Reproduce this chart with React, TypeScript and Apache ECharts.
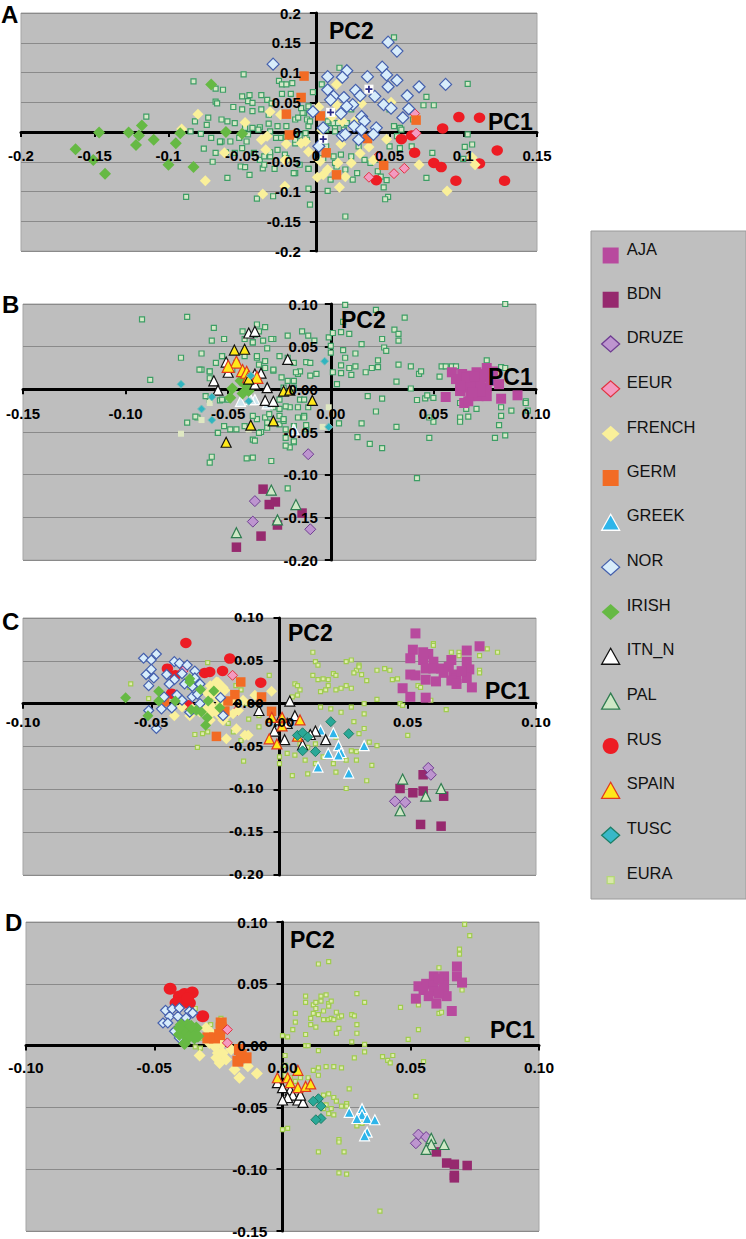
import React, { useEffect, useRef } from "react";
import * as echarts from "echarts";

// ---------- Panel A ----------
const eurA = [[-.083,.085],[-.049,.097],[-.115,.026],[-.068,.073],[-.063,.071],[-.068,.051],[-.067,.048],[-.056,.042],[-.05,.06],[-.045,.062],[-.046,.052],[-.043,.049],[-.05,.038],[-.043,.035],[-.037,.062],[-.033,.054],[-.037,.038],[-.03,.048],[-.032,.029],[-.073,.024],[-.082,.018],[-.074,.012],[-.078,-.003],[-.085,.001],[-.064,.021],[-.06,.018],[-.055,.015],[-.048,.007],[-.043,.007],[-.038,.008],[-.032,.014],[-.026,.01],[-.031,.001],[-.024,-.01],[-.025,.086],[-.023,.08],[-.02,.08],[-.016,.082],[-.023,.064],[-.017,.064],[-.002,.067],[.004,.08],[.016,.108],[.053,.159],[.103,.081],[.075,.059],[.073,.045],[.08,.045],[.103,-.004],[.101,-.025],[.106,-.021],[.1,-.045],[.079,-.035],[.075,-.077],[.048,-.081],[.049,-.109],[.047,-.113],[.046,-.093],[.02,-.142],[.008,-.099],[-.005,-.095],[-.004,-.122],[-.04,-.112],[-.029,-.108],[-.088,-.109],[-.06,-.077],[-.045,-.072],[-.051,-.058],[-.048,-.059],[-.036,-.061],[-.014,-.069],[-.005,-.062],[-.011,-.055],[-.07,-.05],[-.068,-.035],[-.065,-.017],[-.064,-.016],[-.076,-.028],[-.061,-.034],[-.055,-.035],[-.05,-.027],[-.042,-.035],[-.038,-.047],[-.031,-.041],[-.026,-.03],[-.021,-.038],[-.014,-.019],[-.007,-.002],[-.005,.01],[-.008,.032],[-.014,.021],[-.02,.01],[.01,.015],[.013,.007],[.007,-.024],[.012,-.041],[.017,-.038],[.02,-.063],[.025,-.08],[.014,-.058],[.024,-.041],[.029,-.024],[.033,-.047],[.04,-.047],[.042,-.066],[.045,-.052],[.057,.007],[.055,-.007],[.05,-.024],[.057,-.027],[.065,-.024],[.05,.038],[.024,.038],[.021,.015],[-.012,.024],[-.009,.032],[-.006,.021],[-.004,.018],[-.01,.04],[-.005,.043],[.008,.018],[.012,.015],[.007,.004],[.013,.001],[.019,.004],[.015,.015],[-.027,-.01],[-.02,-.008],[-.014,-.013],[-.011,-.006],[-.006,-.013],[-.039,.004],[-.046,-.004],[-.047,-.016],[-.052,-.01],[-.058,-.016],[-.065,-.016],[-.071,-.01],[-.035,-.041],[-.035,-.055],[-.028,-.062],[-.015,-.069],[-.031,-.034],[-.02,-.044],[-.005,-.062],[.005,-.044],[.013,-.052],[.01,-.08],[.028,-.069],[.037,-.052],[.044,-.075],[.058,.004],[.066,.021],[.053,.01]];
const norA = [[.049,.151],[.055,.136],[-.029,.114],[.045,.109],[.048,.096],[.055,.087],[.049,.076],[.07,.076],[.088,.08],[.021,.103],[.018,.092],[.008,.093],[.035,.093],[.027,.07],[.03,.061],[.04,.06],[.008,.071],[.012,.06],[.019,.058],[.01,.054],[.025,.046],[.021,.043],[.046,.046],[.051,.04],[.062,.061],[.063,.039],[.059,.024],[-.002,.034],[.017,.031],[.031,.026],[.033,.018],[.026,.01],[.031,.004],[.041,.007],[.005,.007],[.018,-.006],[.02,-.004],[.039,-.004],[.029,-.013],[.002,-.024]];
const freA = [[-.08,.03],[-.091,.005],[-.048,.016],[-.031,.034],[-.024,.029],[-.033,-.007],[-.037,-.013],[-.034,-.03],[-.062,-.035],[-.02,-.02],[-.01,-.019],[-.007,-.016],[-.005,-.033],[-.021,-.047],[-.021,-.091],[-.036,-.104],[-.075,-.082],[.014,.08],[.014,.046],[.002,.042],[.011,.026],[.018,.018],[.027,.02],[.031,.048],[.051,.05],[.004,.003],[.017,-.02],[.036,-.025],[.03,-.036],[.024,-.052],[.015,-.052],[.003,-.049],[.008,-.063],[.005,-.072],[.001,-.076],[.02,-.075],[.016,-.093],[.039,-.047],[.048,-.012],[.07,-.055],[.089,-.099],[.106,-.043],[.108,-.055]];
const iriA = [[-.071,.08],[-.118,.011],[-.147,-.001],[-.127,-.001],[-.12,-.006],[-.122,-.022],[-.11,-.013],[-.092,-.002],[-.095,-.019],[-.163,-.029],[-.151,-.047],[-.143,-.07],[-.1,-.055],[-.083,-.059],[-.061,0],[-.05,-.003]];
const gerA = [[-.008,.094],[-.01,.058],[-.02,.03],[.003,.027],[-.018,-.005],[.007,-.035],[.014,-.072],[.035,-.011],[.046,-.056],[.068,.02]];
const eeuA = [[.067,.031],[.068,-.002],[.06,-.061],[.053,-.07],[.036,-.076],[.042,-.041]];
const rusA = [[.097,.025],[.111,.024],[.086,.006],[.065,-.006],[.058,-.012],[.067,-.035],[.123,-.031],[.111,-.053],[.08,-.052],[.085,-.059],[.095,-.082],[.128,-.082],[.041,-.081]];
const plusA = [[.036,.072],[.01,.033],[.005,-.012]];

// ---------- Panel B ----------
const eurB = [[-.092,.082],[-.07,.085],[-.088,.011],[-.073,.037],[-.057,.072],[-.063,.042],[-.063,.023],[-.059,.021],[-.058,.057],[-.052,.059],[-.036,.076],[-.032,.073],[-.035,.068],[-.043,.068],[-.042,.059],[-.038,.055],[-.033,.057],[-.028,.059],[-.031,.048],[-.042,.039],[-.036,.037],[-.032,.033],[-.028,.022],[-.053,.039],[-.059,.013],[-.021,.063],[-.014,.068],[-.011,.063],[-.008,.057],[-.001,.061],[0,.051],[.001,.066],[.005,.067],[.009,.065],[.007,.099],[.006,.079],[.022,.093],[.036,.084],[.031,.07],[.033,.065],[.033,.057],[.025,.059],[.015,.053],[.026,.049],[.027,.045],[.006,.046],[.007,.037],[.012,.042],[0,.043],[.023,.034],[.023,.026],[.02,.025],[.017,.02],[.012,.027],[.005,.028],[.009,.025],[.001,.02],[.005,.019],[.01,.017],[.033,.029],[.039,.027],[.043,.018],[.044,.021],[.032,.009],[.039,.001],[.003,.006],[.018,-.008],[.025,-.011],[.022,-.026],[.015,-.04],[.004,-.04],[.013,-.056],[.019,-.064],[.025,-.069],[.032,-.044],[.042,-.104],[.048,-.057],[.05,-.038],[.048,-.033],[.042,-.0125],[.046,-.0105],[.047,-.007],[.05,-.01],[.054,.027],[.053,.015],[.056,.027],[.059,.027],[.061,.027],[.063,-.016],[.063,-.033],[.063,-.038],[.067,-.032],[.071,-.023],[.066,-.023],[.076,.034],[.083,.026],[.085,.025],[.085,.1],[.083,-.021],[.088,-.025],[.083,-.031],[.082,-.042],[.08,-.057],[.085,-.054],[.095,-.014],[.095,-.016],[.096,-.025],[-.058,-.079],[-.059,-.086],[-.041,-.081],[-.038,-.08],[-.029,-.084],[-.021,-.116],[-.038,-.059],[-.055,-.051],[-.052,-.043],[-.049,-.047],[-.046,-.047],[-.042,-.043],[-.034,-.05],[-.036,-.035],[-.038,-.031],[-.031,-.045],[-.025,-.041],[-.025,-.031],[-.023,-.037],[-.016,-.033],[-.013,-.031],[-.011,-.021],[-.016,-.021],[-.02,-.021],[-.025,-.023],[-.025,-.012],[-.02,-.068],[-.018,-.062],[-.022,-.057],[-.012,-.047],[-.012,-.042],[-.022,-.047],[-.018,-.043],[-.05,-.012],[-.054,-.013],[-.059,-.012],[-.065,-.033],[-.07,-.039],[-.024,.014],[-.021,.01],[-.016,.018],[-.015,.021],[-.018,.002],[-.01,.016],[-.007,.018],[-.021,.037],[-.018,.031],[-.012,.032],[-.01,.031],[-.025,.039],[-.053,.039],[-.056,.031],[-.059,.021],[-.064,.023],[-.037,.064],[-.038,.055],[-.029,.059],[-.036,.039],[-.035,.029],[-.032,.025],[-.028,.023],[-.046,.031],[-.048,.023],[-.017,.02],[-.018,.01],[-.023,.002],[-.015,-.012],[-.013,-.012],[-.022,-.02],[-.028,-.021],[-.032,-.033],[-.03,-.029],[-.023,-.035],[-.013,-.033],[-.055,-.051],[-.035,-.051],[-.037,-.06],[-.031,-.039],[-.022,-.066],[-.018,-.061],[-.053,-.012],[-.061,-.008],[-.066,-.032]];
const ajaB = [[.059,.02],[.064,.018],[.076,.025],[.071,.02],[.068,.016],[.065,.01],[.07,.01],[.074,.014],[.063,-.002],[.067,.002],[.071,.002],[.076,.002],[.068,-.008],[.072,-.008],[.076,-.008],[.065,-.016],[.056,-.009],[.082,.006],[.083,-.011],[.091,-.007],[.078,.01],[.061,.012],[.068,.006],[.073,.008],[.066,.014],[.07,.015],[.073,-.003],[.063,.004],[.067,-.014],[.069,-.004],[.075,.018],[.079,.021]];
const bdnB = [[-.033,-.117],[-.027,-.132],[-.03,-.135],[-.014,-.145],[-.026,-.159],[-.034,-.172],[-.046,-.185]];
const druB = [[-.011,-.076],[-.037,-.131],[-.038,-.155],[-.01,-.164]];
const palB = [[-.029,-.118],[-.017,-.135],[-.026,-.153],[-.046,-.168]];
const itnB = [[-.04,.066],[-.037,.068],[-.021,.035],[-.051,.032],[-.05,.02],[-.057,.01],[-.055,-.001],[-.034,.019],[-.037,.018],[-.037,.006],[-.031,.002],[-.032,-.013],[-.028,-.014]];
const spaBlackB = [[-.047,.046],[-.042,.047],[-.023,-.002],[-.02,-.001],[-.009,-.013],[-.028,-.037],[-.039,-.042],[-.051,-.062],[-.04,.012]];
const spaRedB = [[-.046,.032],[-.05,.027],[-.043,.022],[-.041,.02],[-.04,.015],[-.036,.014]];
const iriB = [[-.044,.01],[-.042,.006],[-.048,.001],[-.049,-.01],[-.04,-.002],[-.038,.005],[-.043,-.005]];
const tusB = [[-.073,.006],[-.058,-.009],[-.063,-.023],[-.058,-.036],[-.04,-.014],[-.039,.016],[-.003,.033],[-.001,-.044]];
const greB = [[-.044,-.014],[-.037,-.012],[-.031,-.017],[-.018,-.047],[-.039,-.012]];
const paleB = [[-.073,-.052],[-.063,-.036],[-.059,-.016],[-.04,-.047],[-.001,-.021],[-.004,-.044]];

// ---------- Panel C ----------
const eurC = [[.013,.06],[.014,.049],[.015,.045],[-.004,.033],[.006,.023],[.007,.021],[.008,.016],[.007,.01],[.005,.008],[.013,.033],[.015,.028],[.017,.029],[.019,.028],[.021,.035],[.022,.033],[.026,.049],[.028,.051],[.031,.045],[.03,.039],[.031,.043],[.029,.036],[.032,.034],[.034,.027],[.038,.039],[.041,.041],[.043,.039],[.044,.028],[.046,.029],[.016,.014],[.018,.016],[.019,.021],[.022,.016],[.024,.018],[.026,.021],[.028,.018],[.038,.005],[.033,0],[.033,-.012],[.016,-.004],[.02,-.006],[.024,-.01],[.028,-.004],[.047,0],[.048,-.002],[.06,.07],[.06,.068],[.067,.06],[.07,.06],[.07,.056],[.081,.064],[.085,.06],[.078,.056],[.078,.039],[.078,.036],[.065,-.007],[.059,.004],[.054,.021],[.055,.019],[.029,-.021],[.033,-.029],[.031,-.035],[.035,-.045],[.038,-.049],[.028,-.055],[.03,-.056],[.03,-.066],[.026,-.066],[.036,-.072],[.034,-.09],[.026,-.099],[.011,-.082],[.005,-.084],[.022,-.08],[.021,-.07],[.014,-.07],[.01,-.066],[.006,-.06],[.003,-.058],[0,-.062],[-.014,-.067],[0,-.07],[.05,-.037],[.008,-.047],[.011,-.051],[.022,-.039],[.014,-.047],[.017,-.062],[-.058,.023],[-.051,.006],[-.032,-.051],[-.033,-.036],[-.03,-.035],[-.028,-.033],[-.028,.048],[-.015,.016],[-.017,.021],[-.013,0],[-.015,.004],[-.02,-.023],[-.018,-.033],[-.012,-.018],[-.008,-.027],[-.008,-.014],[-.013,-.035],[-.015,-.043],[-.041,.008],[-.035,.019],[-.027,.004]];
const ajaC = [[.053,.082],[.052,.063],[.056,.06],[.058,.058],[.051,.053],[.056,.051],[.06,.049],[.067,.051],[.073,.062],[.078,.067],[.073,.049],[.057,.041],[.06,.041],[.063,.041],[.066,.043],[.074,.04],[.051,.034],[.053,.033],[.057,.028],[.061,.026],[.064,.036],[.068,.034],[.069,.029],[.067,.027],[.069,.023],[.073,.03],[.075,.019],[.048,.018],[.051,.008],[.057,.007],[.071,.038]];
const bdnC = [[.056,-.083],[.047,-.099],[.052,-.104],[.056,-.102],[.064,-.108],[.055,-.141],[.063,-.143]];
const druC = [[.058,-.075],[.059,-.083],[.045,-.114],[.049,-.115]];
const palC = [[.048,-.088],[.063,-.099],[.057,-.108],[.047,-.125]];
const greC = [[.016,-.031],[.021,-.034],[.023,-.049],[.033,-.049],[.024,-.057],[.019,-.058],[.023,-.06],[.015,-.074],[.027,-.081]];
const tusC = [[.02,-.021],[.027,-.035],[.007,-.037],[.009,-.034],[.011,-.039],[.009,-.055],[.014,-.056]];
const itnC = [[.004,.003],[-.008,-.008],[.006,-.014],[0,-.019],[.003,-.023],[-.002,-.032],[.002,-.042],[.009,-.048],[.014,-.032],[.012,-.036],[.018,-.042]];
const spaC = [[-.003,-.016],[.001,-.016],[.001,-.026],[.008,-.019],[-.004,-.041],[-.001,-.047],[.007,-.038]];
const gerC = [[-.0151,.0253],[-.0174,.0105],[-.007,.0078],[-.0201,.0031],[-.0031,-.009],[-.0213,-.0086],[-.0246,-.0382],[-.0448,.002]];
const norC = [[-.048,.058],[-.053,.053],[-.05,.051],[-.041,.049],[-.039,.047],[-.036,.045],[-.05,.04],[-.052,.034],[-.049,.03],[-.044,.034],[-.038,.035],[-.033,.038],[-.033,.03],[-.041,.028],[-.043,.023],[-.051,.021],[-.037,.023],[-.034,.02],[-.031,.023],[-.045,.008],[-.04,.01],[-.038,.004],[-.034,.008],[-.032,.011],[-.031,0],[-.023,.007],[-.051,-.008],[-.046,-.006],[-.042,-.005],[-.035,-.01],[-.022,-.014],[-.048,-.029]];
const freC = [[-.024,.025],[-.027,.021],[-.024,.018],[-.022,.019],[-.026,.012],[-.028,-.004],[-.026,-.004],[-.023,0],[-.031,-.008],[-.035,-.014],[-.041,-.014],[-.027,-.019],[-.022,-.019],[-.02,-.012],[-.016,-.008],[-.038,-.004],[-.034,-.006],[-.027,-.012],[-.024,-.012],[-.028,.012],[-.024,.006],[-.019,.004],[-.0246,.0253],[-.0259,.0195],[-.0226,.0195],[-.0213,.0156],[-.0272,.0117],[-.0239,.0097],[-.0213,.0019],[-.0278,.0019],[-.0259,-.0058],[-.0285,-.0078],[-.0311,-.0097],[-.0272,-.0195],[-.022,-.0195],[-.0181,-.0117],[-.0142,.0039],[-.0096,.0097],[-.0031,.0144],[-.0168,-.0292],[-.0207,-.0409],[-.0122,-.037],[-.0135,-.037]];
const iriC = [[-.06,.007],[-.035,.0292],[-.035,.0253],[-.0471,.0144],[-.0471,.0031],[-.0406,.0031],[-.0308,.0164],[-.0256,.0148],[-.0344,-.007],[-.0324,-.0078],[-.0304,-.0097],[-.0282,-.0164],[-.0288,-.0253],[-.0233,-.0047],[-.0278,.0031],[-.0513,-.014]];
const eeuC = [[-.0183,.0331],[-.0165,-.0078],[-.0259,.0148],[-.0376,.0382]];
const rusC = [[-.0365,.0709],[-.0194,.0526],[-.0437,.0409],[-.0406,.0331],[-.0292,.0358],[-.0272,.037],[-.0222,.0382],[-.0073,.0245],[-.0421,.0117],[-.0356,-.0019],[-.0259,.0136]];

// ---------- Panel D ----------
const eurD = [[.014,.066],[.018,.068],[.071,.098],[.073,.089],[.069,.078],[.069,.074],[.061,.063],[.07,.045],[.046,.031],[.053,.013],[.049,.005],[.072,.005],[.061,.026],[.062,.027],[.053,.033],[.055,-.013],[.052,-.041],[0,.008],[.002,.007],[.009,.04],[.009,.035],[.005,.026],[.005,.019],[.004,.013],[.009,.009],[.009,0],[.01,0],[.012,.033],[.013,.035],[.015,.04],[.017,.041],[.015,.036],[.018,.034],[.019,.036],[.018,.032],[.013,.03],[.012,.026],[.011,.022],[.011,.017],[.013,.015],[.016,.028],[.014,.025],[.016,.021],[.018,.021],[.019,.022],[.02,.021],[.021,.027],[.022,.023],[.023,.024],[.022,.014],[.021,.01],[.027,.025],[.028,.024],[.029,.017],[.029,.01],[.029,.042],[.032,.035],[.027,.003],[.032,.001],[.014,-.004],[.032,-.005],[.028,-.01],[.039,-.009],[.043,-.008],[.041,-.012],[.042,-.014],[.017,-.017],[.02,-.017],[.023,-.018],[.012,-.02],[.014,-.018],[.014,-.024],[.01,-.026],[.007,-.026],[.005,-.029],[.026,-.035],[.016,-.04],[.018,-.039],[.02,-.042],[.021,-.045],[.017,-.048],[.019,-.051],[.02,-.056],[.025,-.047],[.025,-.049],[.023,-.049],[.018,-.055],[.016,-.051],[.029,-.065],[.031,-.063],[0,-.068],[.002,-.067],[.022,-.076],[.022,-.078],[.024,-.086],[.014,-.086],[.022,-.103],[.025,-.104],[.038,-.134],[.001,-.008],[.001,-.016],[.001,-.024],[.003,-.026],[-.034,.03],[-.024,.022],[-.028,.017],[-.032,.006],[-.032,-.002],[-.034,-.001]];
const ajaD = [[.068,.064],[.068,.056],[.07,.051],[.059,.056],[.063,.056],[.053,.048],[.056,.05],[.059,.049],[.063,.049],[.055,.045],[.059,.044],[.063,.045],[.064,.04],[.057,.04],[.052,.038],[.06,.034],[.066,.028],[.061,.042],[.061,.054]];
const bdnD = [[.06,-.086],[.064,-.095],[.067,-.096],[.072,-.097],[.067,-.105],[.067,-.107]];
const druD = [[.053,-.072],[.056,-.074],[.052,-.079]];
const palD = [[.058,-.075],[.058,-.08],[.063,-.08],[.056,-.084]];
const greD = [[.031,-.051],[.026,-.054],[.031,-.056],[.029,-.059],[.033,-.059],[.036,-.06],[.033,-.07],[.032,-.073]];
const tusD = [[.014,-.043],[.012,-.045],[.015,-.049],[.015,-.059],[.013,-.06]];
const itnD = [[-.002,-.03],[0,-.034],[.003,-.036],[.004,-.04],[.002,-.042],[0,-.044],[.006,-.044],[.008,-.046],[.007,-.04]];
const spaD = [[-.002,-.026],[.002,-.026],[.006,-.02],[.003,-.03],[.006,-.034],[.009,-.033],[.011,-.031]];
const norD = [[-.0456,.0285],[-.043,.0296],[-.0402,.0304],[-.0363,.0277],[-.0466,.0183],[-.044,.0237],[-.0408,.0237],[-.0376,.0223],[-.035,.0264],[-.0447,.0183],[-.0421,.0116],[-.0402,.0062]];
const rusD = [[-.0438,.046],[-.0402,.0397],[-.0382,.0417],[-.0352,.043],[-.0415,.0344],[-.0363,.0344],[-.0389,.0344],[-.037,.0384],[-.0311,.0237]];
const iriD = [[-.0395,.0169],[-.037,.0169],[-.0336,.0142],[-.0402,.0089],[-.0376,.0116],[-.035,.0102],[-.033,.0075],[-.0369,.0062],[-.0382,.0016],[-.0402,.0142],[-.0343,.0062],[-.0356,.0156]];
const freD = [[-.0323,-.0081],[-.0298,.0142],[-.0278,.0102],[-.0265,-.0005],[-.0252,-.0059],[-.0233,-.0059],[-.0245,-.014],[-.022,-.0113],[-.0258,-.0099],[-.0168,-.0261],[-.01,-.0226],[-.0135,-.0167],[-.0187,-.0194],[-.0239,.0008],[-.0285,.0022],[-.02,-.0032]];
const gerD = [[-.0239,.0183],[-.0239,.0142],[-.0291,.0062],[-.0265,.0062],[-.0245,.0089],[-.0168,-.0032],[-.0142,-.0099],[-.0174,-.0126],[-.0161,-.0072]];
const eeuD = [[-.0215,.0129],[-.0215,.0022]];

// ---------- Legend ----------
const legendNames = ["AJA","BDN","DRUZE","EEUR","FRENCH","GERM","GREEK","NOR","IRISH","ITN_N","PAL","RUS","SPAIN","TUSC","EURA"];
const SQUARE = "path://M0 0M18 16M1 0h16v16h-16z";
const TINY = "path://M0 0M18 16M5.5 4.5h7v7h-7z";

const STYLE: Record<string, any> = {
  AJA: { symbol: "rect", color: "#b84a9e", size: 10 },
  BDN: { symbol: "rect", color: "#96296e", size: 9.5 },
  DRUZE: { symbol: "diamond", color: "#bd95cf", edge: "#6f3d92", width: 1, size: 11 },
  EEUR: { symbol: "diamond", color: "#f49ac0", edge: "#e2323f", width: 1, size: 10 },
  FRENCH: { symbol: "diamond", color: "#faf09a", size: 11 },
  GERM: { symbol: "rect", color: "#f26b24", size: 9.5 },
  GREEK: { symbol: "triangle", color: "#2eb5ea", edge: "#ffffff", width: 1.2, size: 10 },
  NOR: { symbol: "diamond", color: "#d8edfb", edge: "#4560ad", width: 1.2, size: 12 },
  IRISH: { symbol: "diamond", color: "#66b944", size: 12 },
  ITN_N: { symbol: "triangle", color: "#ffffff", edge: "#111111", width: 1.2, size: 10 },
  PAL: { symbol: "triangle", color: "#cfe8c6", edge: "#2f7d50", width: 1.2, size: 10 },
  RUS: { symbol: "circle", color: "#ed1c24", size: [11.5, 10.5] },
  SPAIN: { symbol: "triangle", color: "#ffe81a", edge: "#e03a20", width: 1.2, size: 10 },
  TUSC: { symbol: "diamond", color: "#2aa898", edge: "#1c7f66", width: 1, size: 10 },
  EURA: { symbol: "rect", color: "#d6e8c8", edge: "#3d9e66", width: 1.2, size: 5 },
};

const make = (name: string, data: number[][], gi: number, over: any = {}) => {
  const s = { ...STYLE[name], ...over };
  return {
    type: "scatter",
    name: over.seriesName || name,
    data,
    xAxisIndex: gi * 2,
    yAxisIndex: gi * 2,
    symbol: s.symbol,
    symbolSize: s.size,
    silent: true,
    z: 2,
    itemStyle: { color: s.color, opacity: 1, borderColor: s.edge || s.color, borderWidth: s.edge ? s.width : 0 },
  };
};

const SMALL_EURA = { color: "#dfeab0", edge: "#9fcc4e", width: 1.2, size: 4 };
const PLUS = "path://M3 0h2v3h3v2h-3v3h-2v-3h-3v-2h3z";

const series: any[] = [
  // A
  make("EURA", eurA, 0),
  make("RUS", rusA, 0),
  make("EEUR", eeuA, 0),
  make("FRENCH", freA, 0),
  make("GERM", gerA, 0),
  make("NOR", norA, 0),
  make("IRISH", iriA, 0),
  make("EURA", plusA, 0, { seriesName: "marks", color: "#ffffff", edge: null, size: 9 }),
  make("EURA", plusA, 0, { seriesName: "marks2", symbol: PLUS, color: "#2b2a86", edge: null, size: 7 }),
  // B
  make("EURA", eurB, 1),
  make("EURA", paleB, 1, { seriesName: "pale", color: "#dfe8c2", edge: null, size: 6 }),
  make("AJA", ajaB, 1),
  make("BDN", bdnB, 1),
  make("DRUZE", druB, 1),
  make("GREEK", greB, 1, { color: "#cfe6ee" }),
  make("IRISH", iriB, 1),
  make("ITN_N", itnB, 1),
  make("PAL", palB, 1),
  make("SPAIN", spaRedB, 1, { size: 12 }),
  make("SPAIN", spaBlackB, 1, { edge: "#111111" }),
  make("TUSC", tusB, 1, { color: "#30b4c0", edge: "#7fc0b8", size: 8 }),
  // C
  make("EURA", eurC, 2, SMALL_EURA),
  make("AJA", ajaC, 2),
  make("BDN", bdnC, 2),
  make("DRUZE", druC, 2),
  make("RUS", rusC, 2),
  make("EEUR", eeuC, 2),
  make("FRENCH", freC, 2),
  make("GERM", gerC, 2),
  make("GREEK", greC, 2),
  make("NOR", norC, 2, { size: 10 }),
  make("IRISH", iriC, 2, { size: 11 }),
  make("ITN_N", itnC, 2),
  make("PAL", palC, 2),
  make("SPAIN", spaC, 2),
  make("TUSC", tusC, 2),
  // D
  make("EURA", eurD, 3, SMALL_EURA),
  make("AJA", ajaD, 3),
  make("BDN", bdnD, 3),
  make("DRUZE", druD, 3),
  make("RUS", rusD, 3, { size: [13, 12] }),
  make("FRENCH", freD, 3, { size: 12 }),
  make("GERM", gerD, 3, { size: 11 }),
  make("EEUR", eeuD, 3),
  make("GREEK", greD, 3),
  make("NOR", norD, 3, { size: 10 }),
  make("IRISH", iriD, 3, { size: 13 }),
  make("ITN_N", itnD, 3),
  make("PAL", palD, 3),
  make("SPAIN", spaD, 3),
  make("TUSC", tusD, 3),
];

const GRIDS = [
  { left: 21, top: 13, width: 516, height: 238 },
  { left: 23, top: 304, width: 513, height: 256 },
  { left: 23, top: 618, width: 513, height: 257 },
  { left: 26, top: 922, width: 513, height: 310 },
];
const X_RANGE = [[-0.2, 0.15], [-0.15, 0.1], [-0.1, 0.1], [-0.1, 0.1]];
const Y_RANGE = [[-0.2, 0.2], [-0.2, 0.1], [-0.2, 0.1], [-0.15, 0.1]];
const LABEL_FONT = [
  { fontFamily: "Liberation Sans", fontSize: 15 },
  { fontFamily: "Liberation Sans", fontSize: 15 },
  { fontFamily: "DejaVu Sans", fontSize: 12 },
  { fontFamily: "Liberation Sans", fontSize: 15.5 },
];
const X_MARGIN = [16, 17, 13, 14];
const Y_MARGIN = [15, 13, 16, 15];
const fmt = (gi: number) => (v: number) => (gi === 0 ? String(Number(v.toFixed(2))) : v.toFixed(2));

const xAxes: any[] = [];
const yAxes: any[] = [];
GRIDS.forEach((g, gi) => {
  const [xmin, xmax] = X_RANGE[gi];
  const [ymin, ymax] = Y_RANGE[gi];
  const labelStyle = { show: true, fontWeight: "bold", color: "#000", ...LABEL_FONT[gi], formatter: fmt(gi), showMinLabel: true, showMaxLabel: true, hideOverlap: false };
  const xBase = { type: "value", gridIndex: gi, min: xmin, max: xmax, interval: 0.05, splitLine: { show: false } };
  const yBase = { type: "value", gridIndex: gi, min: ymin, max: ymax, interval: 0.05 };
  // line + ticks underneath the marks
  xAxes.push({ ...xBase, position: "bottom", z: 1, axisLine: { onZero: true, lineStyle: { color: "#000", width: 3 } }, axisTick: { show: true, length: 5, lineStyle: { color: "#000", width: 2 } }, axisLabel: { show: false } });
  yAxes.push({ ...yBase, position: "left", z: 1, splitLine: { show: true, lineStyle: { color: "#8a8a8a", width: 1 } }, axisLine: { onZero: true, lineStyle: { color: "#000", width: 3 } }, axisTick: { show: true, length: 6, lineStyle: { color: "#000", width: 2 } }, axisLabel: { show: false } });
  // labels above the marks, moved by offset to the zero lines
  xAxes.push({ ...xBase, position: "bottom", offset: (g.height * ymin) / (ymax - ymin), z: 5, axisLine: { show: false, onZero: false }, axisTick: { show: false }, axisLabel: { ...labelStyle, margin: X_MARGIN[gi] } });
  yAxes.push({ ...yBase, position: "left", offset: (g.width * xmin) / (xmax - xmin), z: 5, splitLine: { show: false }, axisLine: { show: false, onZero: false }, axisTick: { show: false }, axisLabel: { ...labelStyle, margin: Y_MARGIN[gi] } });
});

const txt = (text: string, x: number, y: number, size: number) => ({
  type: "text", x, y, z: 20,
  style: { text, fill: "#000", font: `bold ${size}px "Liberation Sans"`, textAlign: "left", textVerticalAlign: "middle" },
});

const graphic: any[] = [
  { type: "rect", shape: { x: 591, y: 231, width: 155, height: 668 }, z: -1, style: { fill: "#bfbfbf", stroke: "#9a9a9a", lineWidth: 1 } },
  txt("A", 1, 14, 24), txt("B", 2, 304, 24), txt("C", 2, 621, 24), txt("D", 5, 922, 24),
  txt("PC2", 329, 31, 23), txt("PC1", 488, 122, 23),
  txt("PC2", 341, 320, 23), txt("PC1", 488, 377, 23),
  txt("PC2", 288, 633, 23), txt("PC1", 485, 691, 23),
  txt("PC2", 290, 940, 23), txt("PC1", 490, 1030, 23),
];

const ICONS: Record<string, string> = { AJA: SQUARE, BDN: SQUARE, GERM: SQUARE, EURA: TINY };
const legendData = legendNames.map((name) => {
  const s = STYLE[name];
  const eura = name === "EURA";
  const tusc = name === "TUSC";
  return {
    name,
    icon: ICONS[name] || s.symbol,
    itemStyle: {
      color: eura ? "#d9e9a8" : tusc ? "#38b8c8" : s.color,
      borderColor: eura ? "#b4d878" : s.edge || s.color,
      borderWidth: s.edge ? 1.3 : 0,
      opacity: 1,
    },
  };
});

export default function App() {
  const ref = useRef<HTMLDivElement>(null);
  useEffect(() => {
    const chart = echarts.init(ref.current!, undefined, { renderer: "svg" });
    chart.setOption({
      animation: false,
      backgroundColor: "#ffffff",
      grid: GRIDS.map((g) => ({ ...g, show: true, backgroundColor: "#bebebe", borderColor: "#a6a6a6", borderWidth: 1, containLabel: false })),
      xAxis: xAxes,
      yAxis: yAxes,
      series,
      graphic,
      tooltip: { show: false },
      legend: {
        show: true,
        data: legendData,
        orient: "vertical",
        left: 601,
        top: 240,
        padding: 0,
        itemWidth: 18,
        itemHeight: 16,
        itemGap: 20.74,
        selectedMode: false,
        formatter: (n: string) => `{t|${n}}`,
        textStyle: { rich: { t: { fontFamily: "Liberation Sans", fontSize: 16.5, color: "#111", padding: [0, 0, 14, 2] } } },
      },
    });
    return () => chart.dispose();
  }, []);
  return <div ref={ref} style={{ position: "absolute", left: 0, top: 0, width: 746, height: 1239 }} />;
}
